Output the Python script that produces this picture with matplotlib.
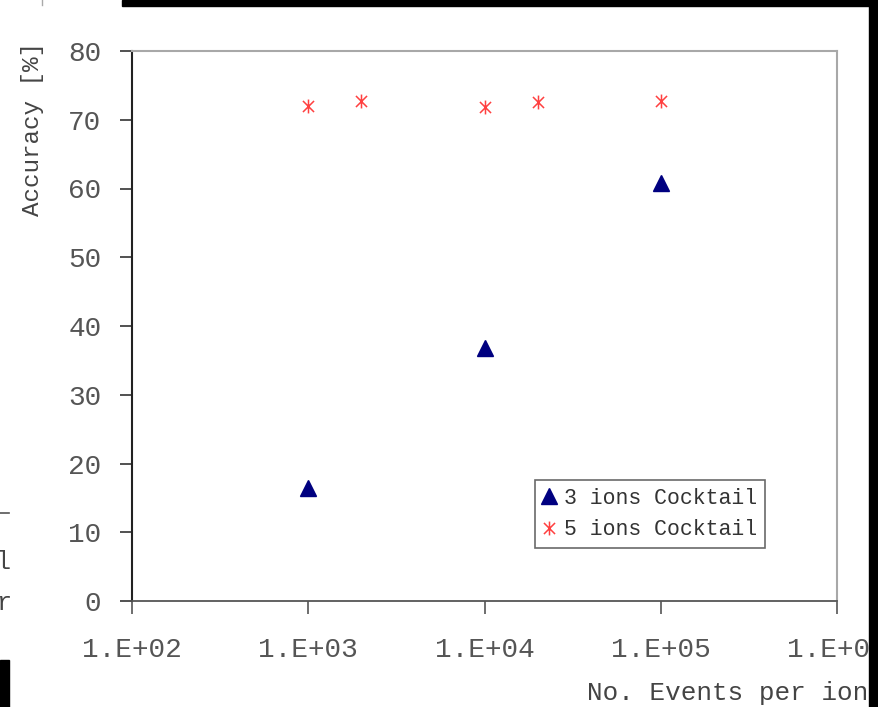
import matplotlib.pyplot as plt
from matplotlib.path import Path
from matplotlib.patches import Rectangle
from matplotlib.lines import Line2D

# data
events_3 = [1e3, 1e4, 1e5]
acc_3 = [16.4, 36.8, 60.8]
events_5 = [1e3, 2e3, 1e4, 2e4, 1e5]
acc_5 = [72.0, 72.7, 71.9, 72.6, 72.7]
x_ticks = [1e2, 1e3, 1e4, 1e5, 1e6]
x_labels = ["1.E+02", "1.E+03", "1.E+04", "1.E+05", "1.E+06"]
y_ticks = [0, 10, 20, 30, 40, 50, 60, 70, 80]

FONT = "Liberation Mono"
W, H = 879, 707

# excel style star: vertical bar plus an X
star = Path(
    [(0, -1), (0, 1), (-0.8, -0.8), (0.8, 0.8), (-0.8, 0.8), (0.8, -0.8)],
    [Path.MOVETO, Path.LINETO, Path.MOVETO, Path.LINETO, Path.MOVETO, Path.LINETO],
)

fig = plt.figure(figsize=(W / 100, H / 100), dpi=100)
ax = fig.add_axes([132 / W, 1 - 601 / H, (837 - 132) / W, (601 - 51) / H])

ax.plot(events_3, acc_3, linestyle="none", marker="^", markersize=11,
        color="#000080", label="3 ions Cocktail")
ax.plot(events_5, acc_5, linestyle="none", marker=star, markersize=10,
        markerfacecolor="none", markeredgecolor="#ff4040", markeredgewidth=1.1,
        label="5 ions Cocktail")

ax.set_xscale("log")
ax.set_xlim(1e2, 1e6)
ax.set_ylim(0, 80)
ax.set_xticks(x_ticks)
ax.set_xticklabels(x_labels)
ax.minorticks_off()
ax.set_yticks(y_ticks)

for lab in ax.get_xticklabels() + ax.get_yticklabels():
    lab.set_fontfamily(FONT)
    lab.set_fontsize(20)
    lab.set_color("#555555")

ax.tick_params(axis="y", direction="out", length=9, width=1.2, color="#333333", pad=13)
ax.tick_params(axis="x", direction="out", length=9, width=1.2, color="#555555", pad=17)

ax.spines["left"].set_color("#222222")
ax.spines["left"].set_linewidth(1.5)
ax.spines["bottom"].set_color("#555555")
ax.spines["bottom"].set_linewidth(1.3)
for s in ["top", "right"]:
    ax.spines[s].set_color("#a8a8a8")
    ax.spines[s].set_linewidth(1.5)

leg = ax.legend(loc="lower left", bbox_to_anchor=((535 - 132) / 705, (601 - 548) / 550),
                prop={"family": FONT, "size": 15.5}, frameon=True, fancybox=False,
                borderpad=0.35, handlelength=0.6, handletextpad=0.4, labelspacing=0.5,
                borderaxespad=0)
leg.get_frame().set_edgecolor("#444444")
leg.get_frame().set_linewidth(1.2)
for t in leg.get_texts():
    t.set_color("#333333")

fig.text(33 / W, 1 - 129 / H, "Accuracy [%]", rotation=90, ha="center", va="center",
         family=FONT, fontsize=17.5, color="#444444")
fig.text(587 / W, 1 - 693 / H, "No. Events per ion", ha="left", va="center",
         family=FONT, fontsize=18.7, color="#444444")

# bits of the neighbouring chart visible at the left edge
fig.add_artist(Line2D([0, 9 / W], [1 - 513 / H, 1 - 513 / H], color="#555555", lw=1.2))
fig.text(-4 / W, 1 - 562 / H, "l", ha="left", va="center", family=FONT, fontsize=18, color="#444444")
fig.text(-4 / W, 1 - 603 / H, "r", ha="left", va="center", family=FONT, fontsize=18, color="#444444")
fig.add_artist(Line2D([42 / W, 42 / W], [1, 1 - 5 / H], color="#aaaaaa", lw=1))

# black screenshot borders
fig.add_artist(Rectangle((122 / W, 1 - 6 / H), 1, 6 / H, color="black"))
fig.add_artist(Rectangle((869 / W, 0), 10 / W, 1, color="black"))
fig.add_artist(Rectangle((0, 0), 9 / W, (707 - 660) / H, color="black"))

fig.savefig("out.png", dpi=100)
